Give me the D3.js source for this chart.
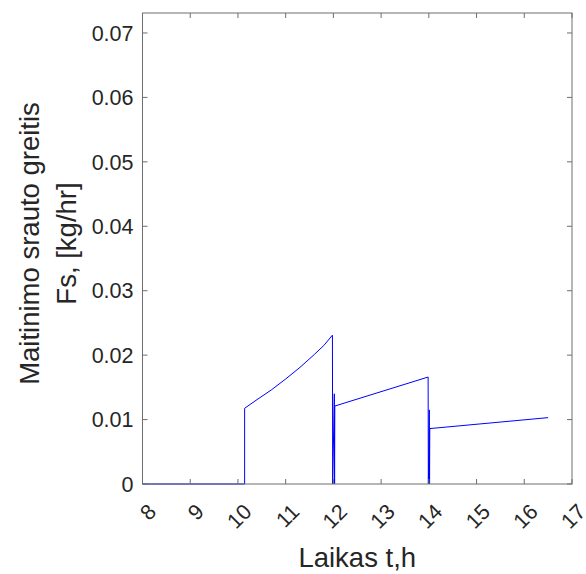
<!DOCTYPE html>
<html>
<head>
<meta charset="utf-8">
<script src="https://cdn.jsdelivr.net/npm/d3@7"></script>
<style>
  body { margin: 0; background: #fff; }
  text { font-family: "Liberation Sans", Arial, sans-serif; fill: #262626; }
</style>
</head>
<body>
<div id="chart"></div>
<script>
// feed flow rate over time
const timeH = [8, 10.14, 10.14, 10.4, 10.7, 11.0, 11.3, 11.6, 11.8, 11.98, 11.985, 12.02, 12.025, 12.03,
               13.985, 13.99, 14.01, 14.015, 14.02, 16.5];
const flowFs = [0, 0, 0.01175, 0.0131, 0.0146, 0.0163, 0.0181, 0.0201, 0.0215, 0.0231, 0, 0.014, 0, 0.0121,
                0.0166, 0, 0.0115, 0, 0.0086, 0.0103];
const xTicks = [8, 9, 10, 11, 12, 13, 14, 15, 16, 17];
const yTicks = [0, 0.01, 0.02, 0.03, 0.04, 0.05, 0.06, 0.07];
const yLabelLines = ["Maitinimo srauto greitis", "Fs, [kg/hr]"];
const xLabel = "Laikas t,h";

let w = 586, h = 574;
let margin = {left: 142.5, top: 13, right: 14, bottom: 90};
let width = w - margin.left - margin.right;
let height = h - margin.top - margin.bottom;

let x = d3.scaleLinear().domain([8, 17]).range([0, width]);
let y = d3.scaleLinear().domain([0, 0.0731]).range([height, 0]);

let svg = d3.select("#chart").append("svg")
    .attr("width", w)
    .attr("height", h);
let g = svg.append("g").attr("transform", `translate(${margin.left}, ${margin.top})`);

const axisColor = "#6e6e6e";
const tickLen = 5;
const tickFont = 21.5;
const labelFont = 27.5;

// the line
let line = d3.line()
    .x((d, i) => x(timeH[i]))
    .y(d => y(d));

g.append("path")
    .datum(flowFs)
    .attr("fill", "none")
    .attr("stroke", "#0000ff")
    .attr("stroke-width", 1)
    .attr("stroke-linejoin", "round")
    .attr("d", line);

// ticks on all four sides (box on)
xTicks.forEach(t => {
    g.append("line").attr("x1", x(t)).attr("x2", x(t))
        .attr("y1", height).attr("y2", height - tickLen)
        .attr("stroke", axisColor);
    g.append("line").attr("x1", x(t)).attr("x2", x(t))
        .attr("y1", 0).attr("y2", tickLen)
        .attr("stroke", axisColor);
    g.append("text")
        .attr("text-anchor", "end")
        .attr("font-size", tickFont)
        .attr("transform", `translate(${x(t) + 15}, ${height + 29}) rotate(-45)`)
        .text(t);
});
yTicks.forEach(v => {
    g.append("line").attr("x1", 0).attr("x2", tickLen)
        .attr("y1", y(v)).attr("y2", y(v))
        .attr("stroke", axisColor);
    g.append("line").attr("x1", width).attr("x2", width - tickLen)
        .attr("y1", y(v)).attr("y2", y(v))
        .attr("stroke", axisColor);
    g.append("text")
        .attr("text-anchor", "end")
        .attr("font-size", tickFont)
        .attr("x", -9)
        .attr("y", y(v))
        .attr("dy", "0.36em")
        .text(v === 0 ? "0" : d3.format(".2f")(v));
});

// box
g.append("rect")
    .attr("x", 0).attr("y", 0)
    .attr("width", width).attr("height", height)
    .attr("fill", "none")
    .attr("stroke", axisColor)
    .attr("stroke-width", 1);

// axis labels
g.append("text")
    .attr("text-anchor", "middle")
    .attr("font-size", labelFont)
    .attr("x", width / 2)
    .attr("y", height + 83)
    .text(xLabel);

let yl = g.append("text")
    .attr("text-anchor", "middle")
    .attr("font-size", labelFont)
    .attr("transform", `translate(${-margin.left + 47}, ${height / 2 - 5}) rotate(-90)`);
yLabelLines.forEach((s, i) => {
    yl.append("tspan")
        .attr("x", 0)
        .attr("dy", i === 0 ? "-0.3em" : "1.35em")
        .text(s);
});
</script>
</body>
</html>
